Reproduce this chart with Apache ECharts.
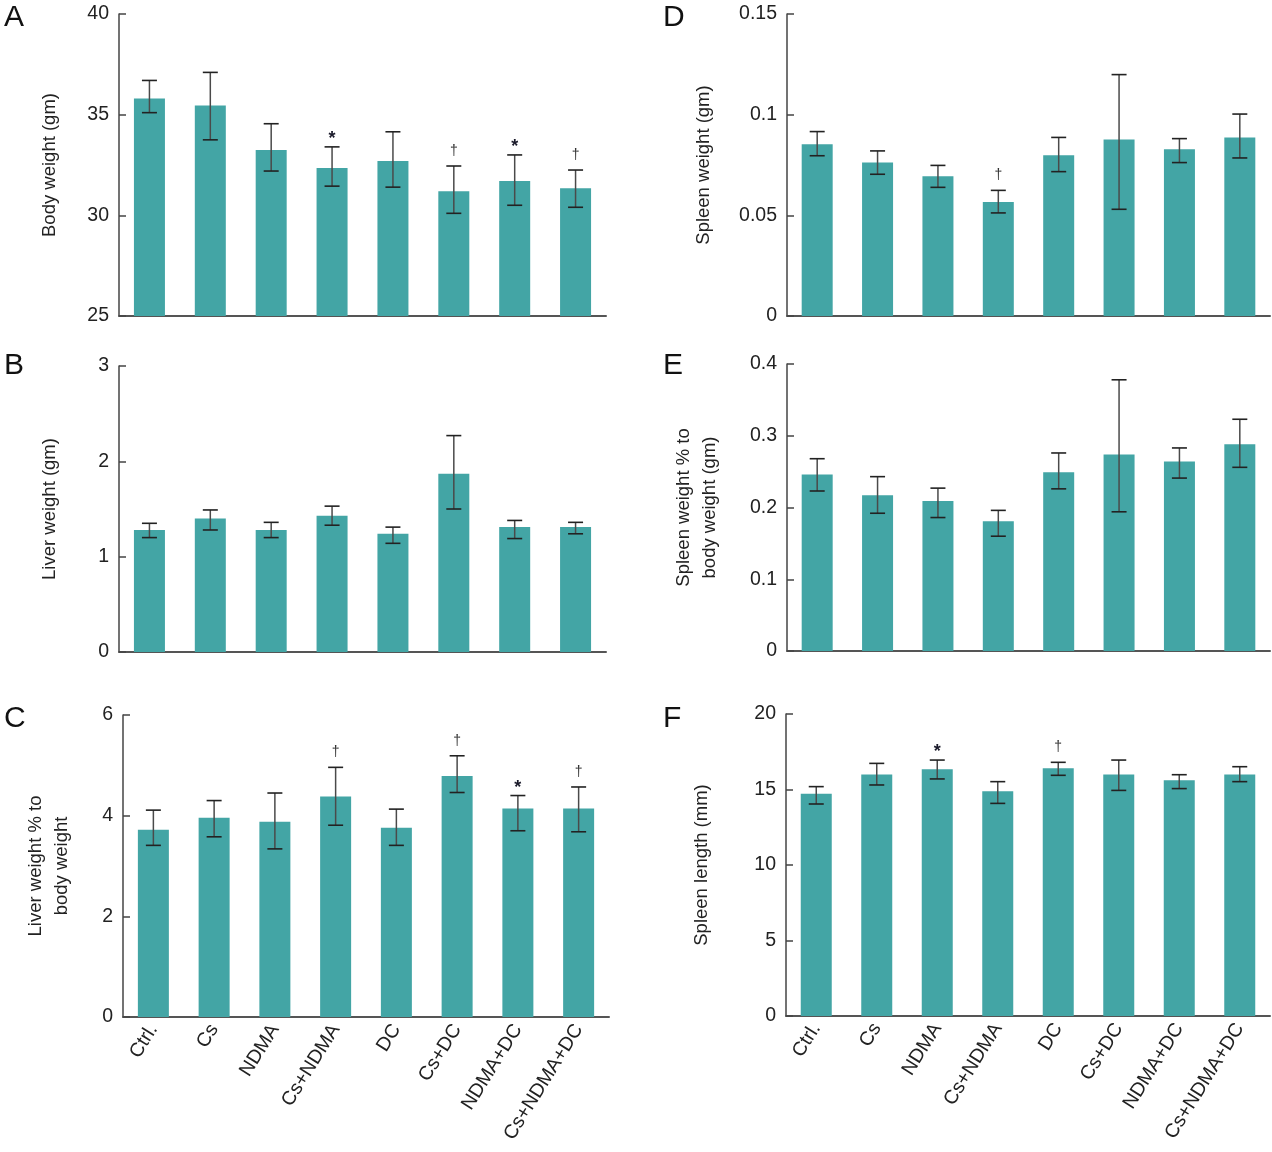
<!DOCTYPE html>
<html>
<head>
<meta charset="utf-8">
<script src="https://cdn.jsdelivr.net/npm/echarts@6/dist/echarts.min.js"></script>
<style>
html,body{margin:0;padding:0;background:#fff;}
#chart{width:1272px;height:1152px;}
</style>
</head>
<body>
<div id="chart"></div>
<script>
// ---- data ----
const categories = ['Ctrl.', 'Cs', 'NDMA', 'Cs+NDMA', 'DC', 'Cs+DC', 'NDMA+DC', 'Cs+NDMA+DC'];

const bodyWeight     = [35.8, 35.45, 33.25, 32.35, 32.7, 31.2, 31.7, 31.35];
const bodyWeightLow  = [35.1, 33.75, 32.2, 31.45, 31.4, 30.1, 30.5, 30.4];
const bodyWeightHigh = [36.7, 37.1, 34.55, 33.4, 34.15, 32.45, 33.0, 32.25];
const bodyWeightSig  = ['', '', '', '*', '', '†', '*', '†'];

const liverWeight     = [1.28, 1.40, 1.28, 1.43, 1.24, 1.87, 1.31, 1.31];
const liverWeightLow  = [1.20, 1.28, 1.20, 1.33, 1.14, 1.50, 1.19, 1.24];
const liverWeightHigh = [1.35, 1.49, 1.36, 1.53, 1.31, 2.27, 1.38, 1.36];
const liverWeightSig  = ['', '', '', '', '', '', '', ''];

const liverPct     = [3.72, 3.96, 3.88, 4.38, 3.76, 4.79, 4.14, 4.14];
const liverPctLow  = [3.41, 3.58, 3.34, 3.81, 3.41, 4.46, 3.70, 3.68];
const liverPctHigh = [4.11, 4.30, 4.45, 4.96, 4.13, 5.19, 4.40, 4.57];
const liverPctSig  = ['', '', '', '†', '', '†', '*', '†'];

const spleenWeight     = [0.0853, 0.0763, 0.0694, 0.0566, 0.0798, 0.0877, 0.0828, 0.0887];
const spleenWeightLow  = [0.0796, 0.0704, 0.0639, 0.0512, 0.0717, 0.0530, 0.0762, 0.0785];
const spleenWeightHigh = [0.0916, 0.0820, 0.0748, 0.0624, 0.0887, 0.1199, 0.0881, 0.1003];
const spleenWeightSig  = ['', '', '', '†', '', '', '', ''];

const spleenPct     = [0.246, 0.217, 0.209, 0.181, 0.249, 0.274, 0.264, 0.288];
const spleenPctLow  = [0.223, 0.192, 0.186, 0.160, 0.226, 0.194, 0.241, 0.256];
const spleenPctHigh = [0.268, 0.243, 0.227, 0.196, 0.276, 0.378, 0.283, 0.323];
const spleenPctSig  = ['', '', '', '', '', '', '', ''];

const spleenLength     = [14.72, 16.0, 16.34, 14.88, 16.4, 16.0, 15.61, 16.0];
const spleenLengthLow  = [14.04, 15.3, 15.70, 14.08, 15.94, 14.94, 15.06, 15.52];
const spleenLengthHigh = [15.19, 16.73, 16.95, 15.52, 16.80, 16.95, 15.98, 16.51];
const spleenLengthSig  = ['', '', '*', '', '†', '', '', ''];

// ---- layout / style ----
const FONT = '"Liberation Sans", Arial, Helvetica, sans-serif';
const BAR_COLOR = '#43a5a5';
const panels = [
  {letter:'A', name:'Body weight (gm)', vals:bodyWeight, lo:bodyWeightLow, hi:bodyWeightHigh, sig:bodyWeightSig,
   min:25, max:40, interval:5, grid:{left:119, top:14, width:487, height:302}, gap:56, labels:false, lx:4, ly:3},
  {letter:'B', name:'Liver weight (gm)', vals:liverWeight, lo:liverWeightLow, hi:liverWeightHigh, sig:liverWeightSig,
   min:0, max:3, interval:1, grid:{left:119, top:366, width:487, height:286}, gap:56, labels:false, lx:4, ly:351},
  {letter:'C', name:'Liver weight % to\nbody weight', vals:liverPct, lo:liverPctLow, hi:liverPctHigh, sig:liverPctSig,
   min:0, max:6, interval:2, grid:{left:123, top:715, width:486, height:302}, gap:48, labels:true, lx:4, ly:704},
  {letter:'D', name:'Spleen weight (gm)', vals:spleenWeight, lo:spleenWeightLow, hi:spleenWeightHigh, sig:spleenWeightSig,
   min:0, max:0.15, interval:0.05, grid:{left:787, top:14, width:483, height:302}, gap:70, labels:false, lx:663, ly:3},
  {letter:'E', name:'Spleen weight % to\nbody weight (gm)', vals:spleenPct, lo:spleenPctLow, hi:spleenPctHigh, sig:spleenPctSig,
   min:0, max:0.4, interval:0.1, grid:{left:787, top:364, width:483, height:287}, gap:64, labels:false, lx:663, ly:351},
  {letter:'F', name:'Spleen length (mm)', vals:spleenLength, lo:spleenLengthLow, hi:spleenLengthHigh, sig:spleenLengthSig,
   min:0, max:20, interval:5, grid:{left:786, top:714, width:484, height:302}, gap:71, labels:true, lx:663, ly:704}
];

function makeErrRender(lo, hi, sig) {
  return function (params, api) {
    const i = params.dataIndex;
    const top = api.coord([i, hi[i]]);
    const bot = api.coord([i, lo[i]]);
    const hw = 7.5;
    const children = [
      {type:'line', shape:{x1:top[0], y1:top[1], x2:bot[0], y2:bot[1]}, style:{stroke:'#4a4a4a', lineWidth:1.5}},
      {type:'line', shape:{x1:top[0]-hw, y1:top[1], x2:top[0]+hw, y2:top[1]}, style:{stroke:'#222', lineWidth:1.6}},
      {type:'line', shape:{x1:bot[0]-hw, y1:bot[1], x2:bot[0]+hw, y2:bot[1]}, style:{stroke:'#222', lineWidth:1.6}}
    ];
    const s = sig[i];
    if (s) {
      const isStar = s === '*';
      children.push({
        type:'text',
        style:{
          text:s, x:top[0], y:top[1] - (isStar ? 8 : 15),
          align:'center', verticalAlign:'middle',
          font: isStar ? 'bold 18px ' + FONT : '14px ' + FONT,
          fill: isStar ? '#1a1a2a' : '#333'
        }
      });
    }
    return {type:'group', children};
  };
}

const grids = [], xAxes = [], yAxes = [], series = [], graphics = [];
panels.forEach((p, k) => {
  grids.push(Object.assign({outerBoundsMode:'none', containLabel:false}, p.grid));
  xAxes.push({
    type:'category', gridIndex:k, data:categories,
    axisLine:{show:true, lineStyle:{color:'#555', width:2}},
    axisTick:{show:false},
    axisLabel:{show:p.labels, rotate:58, fontSize:19.5, color:'#222', fontFamily:FONT, margin:9, interval:0},
    splitLine:{show:false}
  });
  yAxes.push({
    type:'value', gridIndex:k, min:p.min, max:p.max, interval:p.interval,
    name:p.name, nameLocation:'middle', nameGap:p.gap,
    nameTextStyle:{fontSize:18.5, color:'#222', fontFamily:FONT, lineHeight:26},
    axisLine:{show:true, lineStyle:{color:'#444', width:1.5}},
    axisTick:{show:true, inside:true, length:7, lineStyle:{color:'#444', width:1.5}},
    axisLabel:{fontSize:19.5, color:'#222', fontFamily:FONT, margin:10},
    splitLine:{show:false}
  });
  series.push({
    type:'bar', xAxisIndex:k, yAxisIndex:k, data:p.vals, barWidth:31,
    itemStyle:{color:BAR_COLOR}, silent:true, animation:false
  });
  series.push({
    type:'custom', xAxisIndex:k, yAxisIndex:k,
    data:categories.map((c, i) => [i, p.lo[i], p.hi[i]]),
    encode:{x:0, y:[1, 2]},
    renderItem:makeErrRender(p.lo, p.hi, p.sig),
    silent:true, animation:false, z:5
  });
  graphics.push({
    type:'text', left:p.lx, top:p.ly,
    style:{text:p.letter, font:'30px ' + FONT, fill:'#111'}
  });
});

const chart = echarts.init(document.getElementById('chart'));
chart.setOption({
  animation:false,
  backgroundColor:'#fff',
  grid:grids, xAxis:xAxes, yAxis:yAxes, series:series, graphic:graphics
});
</script>
</body>
</html>
